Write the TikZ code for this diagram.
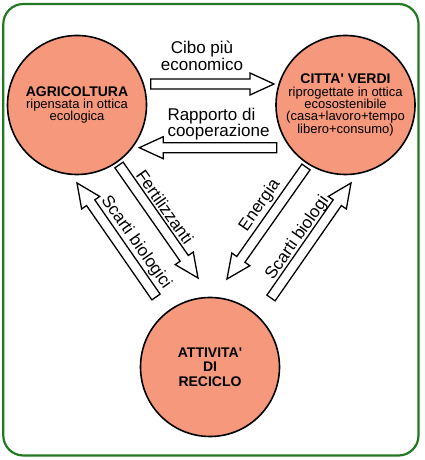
\documentclass[tikz,border=0pt]{standalone}
\usepackage{fontspec}
\setmainfont{Liberation Sans}
\usetikzlibrary{calc}
\definecolor{salmone}{HTML}{F5987C}
\definecolor{cornice}{HTML}{217A21}

% block arrow from tail #1 to tip #2
\newcommand{\blockarrow}[2]{%
  \coordinate (#2-h) at ($(#2)!24pt!(#1)$);
  \draw[barrow] ($(#1)!5pt!90:(#2)$) -- ($(#2-h)!5pt!90:(#2)$) -- ($(#2-h)!11pt!90:(#2)$)
    -- (#2) -- ($(#2-h)!11pt!-90:(#2)$) -- ($(#2-h)!5pt!-90:(#2)$) -- ($(#1)!5pt!-90:(#2)$) -- cycle;
}

\begin{document}
\begin{tikzpicture}[
    x=1pt, y=1pt,
    cerchio/.style={
        circle, draw=black, line width=1.6pt, fill=salmone,
        minimum size=139pt, inner sep=0pt,
        align=center, font=\fontsize{13}{12.3}\selectfont
    },
    barrow/.style={draw=black, fill=white, line width=1.3pt, line join=miter},
    etichetta/.style={inner sep=0pt, font=\fontsize{17}{15}\selectfont},
]
\useasboundingbox (0,0) rectangle (425,460);

% ── Cornice ────────────────────────────
\draw[cornice, line width=2.2pt, rounded corners=20pt] (3.3,4.5) rectangle (418.5,456);

% ── Cerchi ────────────────────────────
\node[cerchio] (agri) at (77,355)
    {{\fontsize{14}{12.3}\selectfont\bfseries AGRICOLTURA}\\ripensata in ottica\\ecologica};
\node[cerchio] (citta) at (345.5,355)
    {{\fontsize{14}{12.3}\selectfont\bfseries CITTA\textquotesingle{} VERDI}\\riprogettate in ottica\\ecosostenibile\\(casa+lavoro+tempo\\libero+consumo)};
\node[cerchio, font=\fontsize{14}{14.5}\selectfont\bfseries] (riciclo) at (210,93)
    {ATTIVITA\textquotesingle\\DI\\RECICLO};

% ── Estremi delle frecce ──────────────
\coordinate (cibo-s) at (150.7,376);
\coordinate (cibo-e) at (274,376);
\coordinate (coop-s) at (276.7,312.3);
\coordinate (coop-e) at (139.3,312.3);
\coordinate (fert-s) at (119,295);
\coordinate (fert-e) at (198,182);
\coordinate (scag-s) at (156,163);
\coordinate (scag-e) at (77,277);
\coordinate (ener-s) at (306,293);
\coordinate (ener-e) at (227,181);
\coordinate (scac-s) at (271,162);
\coordinate (scac-e) at (351,277);

% ── Frecce ────────────────────────────
\blockarrow{cibo-s}{cibo-e}
\blockarrow{coop-s}{coop-e}
\blockarrow{fert-s}{fert-e}
\blockarrow{scag-s}{scag-e}
\blockarrow{ener-s}{ener-e}
\blockarrow{scac-s}{scac-e}

% ── Etichette ─────────────────────────
\node[etichetta, align=center] (cibo) at (202,404.5) {Cibo più\\economico};
\node[etichetta, align=left, anchor=west, font=\fontsize{17}{16}\selectfont] (coop) at (167.3,335.6) {Rapporto di\\cooperazione};
\node[etichetta, rotate=-55] (fert) at (165,253) {Fertilizzanti};
\node[etichetta, rotate=-55] (scag) at (136,217.5) {Scarti biologici};
\node[etichetta, rotate=55] (ener) at (260,254.5) {Energia};
\node[etichetta, rotate=55] (scac) at (297.5,222) {Scarti biologi};

\end{tikzpicture}
\end{document}
